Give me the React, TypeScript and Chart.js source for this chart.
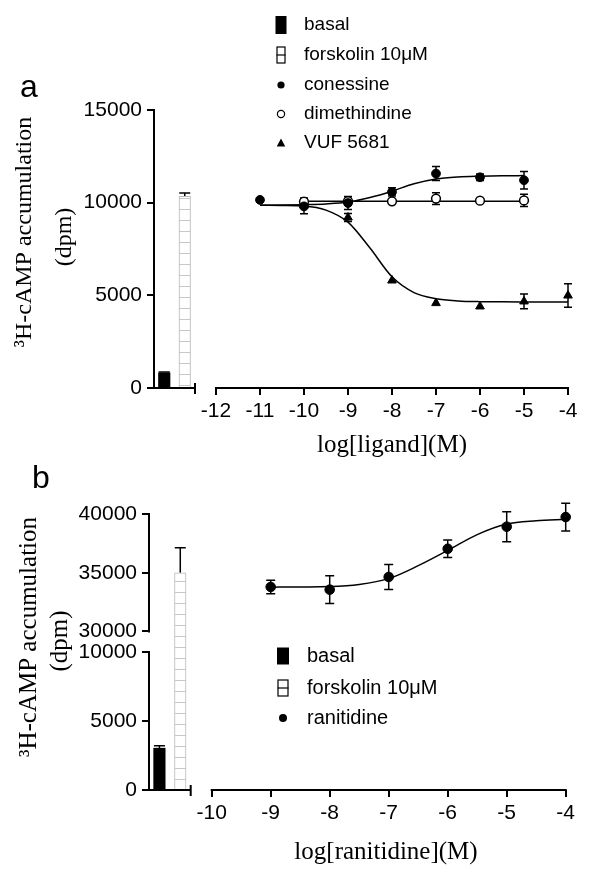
import React, { useEffect, useRef } from 'react';
import { Chart, registerables, LinearScale } from 'chart.js';

// ---------------- Panel a data ----------------
const barLabels = ['basal', 'forskolin 10μM'];
const barValuesA = [820, 10340];
const barErrorsA = [40, 180];

const conessineLogX = [-11, -10, -9, -8, -7, -6, -5];
const conessineY = [10150, 9800, 9980, 10580, 11570, 11370, 11210];
const conessineErr = [0, 400, 350, 220, 380, 180, 470];

const dimethindineLogX = [-10, -9, -8, -7, -6, -5];
const dimethindineY = [10050, 10080, 10070, 10220, 10110, 10120];
const dimethindineErr = [200, 150, 0, 320, 0, 330];

const vufLogX = [-10, -9, -8, -7, -6, -5, -4];
const vufY = [9850, 9200, 5800, 4580, 4400, 4670, 4990];
const vufErr = [0, 210, 0, 0, 0, 400, 630];

const conessineFitLogX = [-11, -10.5, -10, -9.5, -9, -8.5, -8, -7.5, -7, -6.5, -6, -5.5, -5];
const conessineFit = [9860, 9870, 9890, 9930, 10030, 10280, 10620, 11020, 11280, 11390, 11430, 11450, 11460];
const vufFitLogX = [-11, -10.5, -10, -9.5, -9, -8.5, -8, -7.5, -7, -6.5, -6, -5.5, -5, -4.5, -4];
const vufFit = [9860, 9850, 9820, 9600, 8950, 7550, 6000, 5150, 4820, 4700, 4660, 4650, 4645, 4640, 4640];
const dimethindineFitLogX = [-10, -5];
const dimethindineFit = [10080, 10080];

const yTicksA = [0, 5000, 10000, 15000];
const xTicksA = [-12, -11, -10, -9, -8, -7, -6, -5, -4];

// ---------------- Panel b data ----------------
const barValuesB = [3030, 35000];
const barErrorsB = [170, 2120];

const ranitidineLogX = [-9, -8, -7, -6, -5, -4];
const ranitidineY = [33790, 33560, 34640, 37040, 38920, 39740];
const ranitidineErr = [570, 1180, 1070, 750, 1280, 1180];

const ranitidineFitLogX = [-9, -8.5, -8, -7.5, -7, -6.5, -6, -5.5, -5, -4.5, -4];
const ranitidineFit = [33770, 33790, 33820, 34000, 34500, 35600, 36900, 38250, 39150, 39430, 39550];

const yTicksB = [0, 5000, 10000, 30000, 35000, 40000];
const xTicksB = [-10, -9, -8, -7, -6, -5, -4];

// broken y axis of panel b: lower and upper value segments
const brokenLow = [0, 10000];
const brokenHigh = [30000, 40000];
const brokenFracs = [0.5, 0.0743, 0.4257]; // share of axis height: lower, gap, upper

const SANS = '"Liberation Sans", Arial, sans-serif';
const SERIF = '"Liberation Serif", "Times New Roman", serif';

class BrokenLinearScale extends LinearScale {
  static id = 'brokenLinear';
  static defaults = {};
  _frac(v: number) {
    const [l0, l1] = brokenLow;
    const [h0, h1] = brokenHigh;
    const [fl, fg, fh] = brokenFracs;
    if (v <= l1) return ((v - l0) / (l1 - l0)) * fl;
    if (v >= h0) return fl + fg + ((v - h0) / (h1 - h0)) * fh;
    return fl + ((v - l1) / (h0 - l1)) * fg;
  }
  getPixelForValue(v: any) {
    if (v === null || v === undefined || isNaN(v)) return NaN;
    return this.bottom - this._frac(v) * (this.bottom - this.top);
  }
  getValueForPixel(px: number) {
    const f = (this.bottom - px) / (this.bottom - this.top);
    const [l0, l1] = brokenLow;
    const [h0, h1] = brokenHigh;
    const [fl, fg, fh] = brokenFracs;
    if (f <= fl) return l0 + (f / fl) * (l1 - l0);
    if (f >= fl + fg) return h0 + ((f - fl - fg) / fh) * (h1 - h0);
    return l1 + ((f - fl) / fg) * (h0 - l1);
  }
}

Chart.register(...registerables, BrokenLinearScale);

const pts = (xs: number[], ys: number[]) => xs.map((x, i) => ({ x, y: ys[i] }));

function makeHatch(ctx: CanvasRenderingContext2D) {
  const c = document.createElement('canvas');
  c.width = 8;
  c.height = 11;
  const g = c.getContext('2d')!;
  g.fillStyle = '#ffffff';
  g.fillRect(0, 0, 8, 11);
  g.fillStyle = '#c8c8c8';
  g.fillRect(0, 0, 8, 1);
  return ctx.createPattern(c, 'repeat');
}

const errorBarPlugin = {
  id: 'errorBars',
  beforeDatasetsDraw(chart: any) {
    const ctx = chart.ctx;
    chart.data.datasets.forEach((ds: any, di: number) => {
      if (!ds.errors) return;
      const meta = chart.getDatasetMeta(di);
      const yScale = chart.scales[meta.yAxisID];
      const isBar = ds.type === 'bar';
      ctx.save();
      ctx.strokeStyle = '#000';
      ctx.lineWidth = 1.5;
      meta.data.forEach((el: any, i: number) => {
        const e = ds.errors[i];
        if (!e) return;
        const v = isBar ? ds.data[i] : ds.data[i].y;
        const yTop = yScale.getPixelForValue(v + e);
        const yBot = isBar ? el.y : yScale.getPixelForValue(v - e);
        const c = ds.errCap;
        ctx.beginPath();
        ctx.moveTo(el.x, yTop);
        ctx.lineTo(el.x, yBot);
        ctx.moveTo(el.x - c, yTop);
        ctx.lineTo(el.x + c, yTop);
        if (!isBar) {
          ctx.moveTo(el.x - c, yBot);
          ctx.lineTo(el.x + c, yBot);
        }
        ctx.stroke();
      });
      ctx.restore();
    });
  },
};

function axisPlugin(ySegments: number[][], xTicks: number[]) {
  return {
    id: 'axisLines',
    afterDatasetsDraw(chart: any) {
      const { ctx, chartArea: ca } = chart;
      const y = chart.scales.y;
      const x = chart.scales.x;
      const xb = chart.scales.xb;
      ctx.save();
      ctx.strokeStyle = '#000';
      ctx.lineWidth = 2;
      const line = (x1: number, y1: number, x2: number, y2: number) => {
        ctx.beginPath();
        ctx.moveTo(x1, y1);
        ctx.lineTo(x2, y2);
        ctx.stroke();
      };
      ySegments.forEach(([a, b]) => line(ca.left, y.getPixelForValue(a) + 1, ca.left, y.getPixelForValue(b) - 1));
      const by = ca.bottom;
      line(ca.left - 1, by, xb.right, by);
      line(xb.right, by - 5, xb.right, by + 6);
      line(x.getPixelForValue(xTicks[0]) - 1, by, x.getPixelForValue(xTicks[xTicks.length - 1]) + 1, by);
      ctx.restore();
    },
  };
}

function drawIcon(ctx: CanvasRenderingContext2D, icon: any, x: number, y: number) {
  ctx.save();
  ctx.fillStyle = '#000';
  ctx.strokeStyle = '#000';
  ctx.lineWidth = 1.2;
  const { type, w, h, r } = icon;
  if (type === 'bar') {
    ctx.fillRect(x - w / 2, y - h / 2, w, h);
  } else if (type === 'hatch') {
    ctx.fillStyle = '#fff';
    ctx.fillRect(x - w / 2, y - h / 2, w, h);
    ctx.strokeRect(x - w / 2 + 0.5, y - h / 2 + 0.5, w - 1, h - 1);
    ctx.beginPath();
    ctx.moveTo(x - w / 2, y);
    ctx.lineTo(x + w / 2, y);
    ctx.stroke();
  } else if (type === 'dot') {
    ctx.beginPath();
    ctx.arc(x, y, r, 0, Math.PI * 2);
    ctx.fill();
  } else if (type === 'circle') {
    ctx.beginPath();
    ctx.arc(x, y, r, 0, Math.PI * 2);
    ctx.fillStyle = '#fff';
    ctx.fill();
    ctx.stroke();
  } else if (type === 'triangle') {
    ctx.beginPath();
    ctx.moveTo(x, y - r);
    ctx.lineTo(x + r * 0.95, y + r * 0.75);
    ctx.lineTo(x - r * 0.95, y + r * 0.75);
    ctx.closePath();
    ctx.fill();
  }
  ctx.restore();
}

function textPlugin(spec: any) {
  return {
    id: 'texts',
    afterDraw(chart: any) {
      const ctx = chart.ctx;
      ctx.save();
      ctx.fillStyle = '#000';
      ctx.font = `32px ${SANS}`;
      ctx.textAlign = 'left';
      ctx.textBaseline = 'alphabetic';
      ctx.fillText(spec.letter, spec.letterPos[0], spec.letterPos[1]);

      ctx.font = `${spec.yTitleSize}px ${SERIF}`;
      ctx.textAlign = 'center';
      ctx.textBaseline = 'middle';
      spec.yTitle.forEach((t: string, i: number) => {
        ctx.save();
        ctx.translate(spec.yTitlePos[i][0], spec.yTitlePos[i][1]);
        ctx.rotate(-Math.PI / 2);
        ctx.fillText(t, 0, 0);
        ctx.restore();
      });

      ctx.font = `25px ${SERIF}`;
      ctx.textBaseline = 'alphabetic';
      ctx.fillText(spec.xTitle, spec.xTitlePos[0], spec.xTitlePos[1]);

      ctx.font = `${spec.legendSize}px ${SANS}`;
      ctx.textAlign = 'left';
      ctx.textBaseline = 'middle';
      spec.legend.forEach((item: any, i: number) => {
        const yy = spec.legendRows[i];
        drawIcon(ctx, item.icon, spec.legendIconX, yy);
        ctx.fillStyle = '#000';
        ctx.fillText(item.label, spec.legendTextX, yy);
      });
      ctx.restore();
    },
  };
}

const tickFont = { family: SANS, size: 21 };

function barDataset(values: number[], errors: number[], hatch: any) {
  return {
    type: 'bar', label: 'controls', xAxisID: 'xb', yAxisID: 'y',
    data: values, errors, errCap: 5.5,
    backgroundColor: ['#000', hatch], borderColor: ['#000', '#b8b8b8'], borderWidth: [0, 1],
    grouped: false, barThickness: 11.5, clip: false,
  };
}

function buildA(ctx: CanvasRenderingContext2D) {
  const hatch = makeHatch(ctx);
  return {
    type: 'line',
    data: {
      labels: barLabels,
      datasets: [
        {
          type: 'line', label: 'conessine', xAxisID: 'x', yAxisID: 'y',
          data: pts(conessineLogX, conessineY), errors: conessineErr, errCap: 4,
          showLine: false, pointStyle: 'circle', pointRadius: 4.4, clip: false,
          pointBackgroundColor: '#000', pointBorderColor: '#000', pointBorderWidth: 1,
        },
        {
          type: 'line', label: 'dimethindine', xAxisID: 'x', yAxisID: 'y',
          data: pts(dimethindineLogX, dimethindineY), errors: dimethindineErr, errCap: 4,
          showLine: false, pointStyle: 'circle', pointRadius: 4.4, clip: false,
          pointBackgroundColor: '#fff', pointBorderColor: '#000', pointBorderWidth: 1.5,
        },
        {
          type: 'line', label: 'VUF 5681', xAxisID: 'x', yAxisID: 'y',
          data: pts(vufLogX, vufY), errors: vufErr, errCap: 4,
          showLine: false, pointStyle: 'triangle', pointRadius: 5, clip: false,
          pointBackgroundColor: '#000', pointBorderColor: '#000', pointBorderWidth: 1,
        },
        {
          type: 'line', label: 'conessine fit', xAxisID: 'x', yAxisID: 'y',
          data: pts(conessineFitLogX, conessineFit), pointRadius: 0, borderWidth: 1.5,
          borderColor: '#000', cubicInterpolationMode: 'monotone', fill: false,
        },
        {
          type: 'line', label: 'dimethindine fit', xAxisID: 'x', yAxisID: 'y',
          data: pts(dimethindineFitLogX, dimethindineFit), pointRadius: 0, borderWidth: 1.5,
          borderColor: '#000', fill: false,
        },
        {
          type: 'line', label: 'VUF fit', xAxisID: 'x', yAxisID: 'y',
          data: pts(vufFitLogX, vufFit), pointRadius: 0, borderWidth: 1.5,
          borderColor: '#000', cubicInterpolationMode: 'monotone', fill: false,
        },
        barDataset(barValuesA, barErrorsA, hatch),
      ],
    },
    options: {
      responsive: false,
      animation: false,
      layout: { padding: { left: 0, top: 110, right: 32, bottom: 10 } },
      plugins: { legend: { display: false }, tooltip: { enabled: false } },
      scales: {
        xb: {
          type: 'category', position: 'bottom', stack: 'bottomAxis', stackWeight: 41, offset: true,
          grid: { display: false }, border: { display: false }, ticks: { display: false },
          afterFit: (s: any) => { s.height = 62; },
        },
        x: {
          type: 'linear', position: 'bottom', stack: 'bottomAxis', stackWeight: 373,
          min: -12.477, max: -4,
          afterBuildTicks: (s: any) => { s.ticks = xTicksA.map((value) => ({ value })); },
          ticks: { autoSkip: false, maxRotation: 0, color: '#000', font: tickFont, padding: 4, callback: (v: any) => String(v) },
          grid: { drawOnChartArea: false, drawTicks: true, tickLength: 7, color: '#000', lineWidth: 2 },
          border: { display: false },
          afterFit: (s: any) => { s.height = 62; },
        },
        y: {
          type: 'linear', position: 'left', min: 0, max: 15000,
          afterBuildTicks: (s: any) => { s.ticks = yTicksA.map((value) => ({ value })); },
          ticks: { autoSkip: false, color: '#000', font: tickFont, padding: 5, callback: (v: any) => String(v) },
          grid: { drawOnChartArea: false, drawTicks: true, tickLength: 7, color: '#000', lineWidth: 2 },
          border: { display: false },
          afterFit: (s: any) => { s.width = 154; },
        },
      },
    },
    plugins: [
      errorBarPlugin,
      axisPlugin([[0, 15000]], xTicksA),
      textPlugin({
        letter: 'a', letterPos: [20, 97],
        yTitle: ['³H-cAMP accumulation', '(dpm)'], yTitleSize: 24,
        yTitlePos: [[25, 232], [65, 237]],
        xTitle: 'log[ligand](M)', xTitlePos: [392, 452],
        legendSize: 19, legendIconX: 281, legendTextX: 304,
        legendRows: [25, 55, 85, 114, 143],
        legend: [
          { label: 'basal', icon: { type: 'bar', w: 11, h: 18 } },
          { label: 'forskolin 10μM', icon: { type: 'hatch', w: 9, h: 17 } },
          { label: 'conessine', icon: { type: 'dot', r: 3.6 } },
          { label: 'dimethindine', icon: { type: 'circle', r: 3.6 } },
          { label: 'VUF 5681', icon: { type: 'triangle', r: 4.5 } },
        ],
      }),
    ],
  };
}

function buildB(ctx: CanvasRenderingContext2D) {
  const hatch = makeHatch(ctx);
  return {
    type: 'line',
    data: {
      labels: barLabels,
      datasets: [
        {
          type: 'line', label: 'ranitidine', xAxisID: 'x', yAxisID: 'y',
          data: pts(ranitidineLogX, ranitidineY), errors: ranitidineErr, errCap: 4.5,
          showLine: false, pointStyle: 'circle', pointRadius: 4.8, clip: false,
          pointBackgroundColor: '#000', pointBorderColor: '#000', pointBorderWidth: 1,
        },
        {
          type: 'line', label: 'ranitidine fit', xAxisID: 'x', yAxisID: 'y',
          data: pts(ranitidineFitLogX, ranitidineFit), pointRadius: 0, borderWidth: 1.5,
          borderColor: '#000', cubicInterpolationMode: 'monotone', fill: false,
        },
        barDataset(barValuesB, barErrorsB, hatch),
      ],
    },
    options: {
      responsive: false,
      animation: false,
      layout: { padding: { left: 0, top: 54, right: 34.3, bottom: 43 } },
      plugins: { legend: { display: false }, tooltip: { enabled: false } },
      scales: {
        xb: {
          type: 'category', position: 'bottom', stack: 'bottomAxis', stackWeight: 41.7, offset: true,
          grid: { display: false }, border: { display: false }, ticks: { display: false },
          afterFit: (s: any) => { s.height = 62; },
        },
        x: {
          type: 'linear', position: 'bottom', stack: 'bottomAxis', stackWeight: 375,
          min: -10.356, max: -4,
          afterBuildTicks: (s: any) => { s.ticks = xTicksB.map((value) => ({ value })); },
          ticks: { autoSkip: false, maxRotation: 0, color: '#000', font: tickFont, padding: 4, callback: (v: any) => String(v) },
          grid: { drawOnChartArea: false, drawTicks: true, tickLength: 7, color: '#000', lineWidth: 2 },
          border: { display: false },
          afterFit: (s: any) => { s.height = 62; },
        },
        y: {
          type: 'brokenLinear', position: 'left', min: 0, max: 40000,
          afterBuildTicks: (s: any) => { s.ticks = yTicksB.map((value) => ({ value })); },
          ticks: { autoSkip: false, color: '#000', font: tickFont, padding: 5, callback: (v: any) => String(v) },
          grid: { drawOnChartArea: false, drawTicks: true, tickLength: 7, color: '#000', lineWidth: 2 },
          border: { display: false },
          afterFit: (s: any) => { s.width = 149; },
        },
      },
    },
    plugins: [
      errorBarPlugin,
      axisPlugin([brokenLow, brokenHigh], xTicksB),
      textPlugin({
        letter: 'b', letterPos: [32, 28],
        yTitle: ['³H-cAMP accumulation', '(dpm)'], yTitleSize: 25,
        yTitlePos: [[29, 177], [60, 181]],
        xTitle: 'log[ranitidine](M)', xTitlePos: [386, 399],
        legendSize: 20, legendIconX: 283, legendTextX: 307,
        legendRows: [196, 228, 258],
        legend: [
          { label: 'basal', icon: { type: 'bar', w: 12, h: 17 } },
          { label: 'forskolin 10μM', icon: { type: 'hatch', w: 11, h: 17 } },
          { label: 'ranitidine', icon: { type: 'dot', r: 4 } },
        ],
      }),
    ],
  };
}

function Panel({ build, top, height }: { build: (ctx: CanvasRenderingContext2D) => any; top: number; height: number }) {
  const ref = useRef<HTMLCanvasElement>(null);
  useEffect(() => {
    const canvas = ref.current!;
    const chart = new Chart(canvas, build(canvas.getContext('2d')!));
    return () => chart.destroy();
  }, []);
  return (
    <canvas
      ref={ref}
      width={600}
      height={height}
      style={{ position: 'absolute', left: 0, top, width: 600, height, display: 'block' }}
    />
  );
}

export default function App() {
  return (
    <div style={{ position: 'absolute', left: 0, top: 0, width: 600, height: 895, background: '#fff' }}>
      <Panel build={buildA} top={0} height={460} />
      <Panel build={buildB} top={460} height={435} />
    </div>
  );
}
